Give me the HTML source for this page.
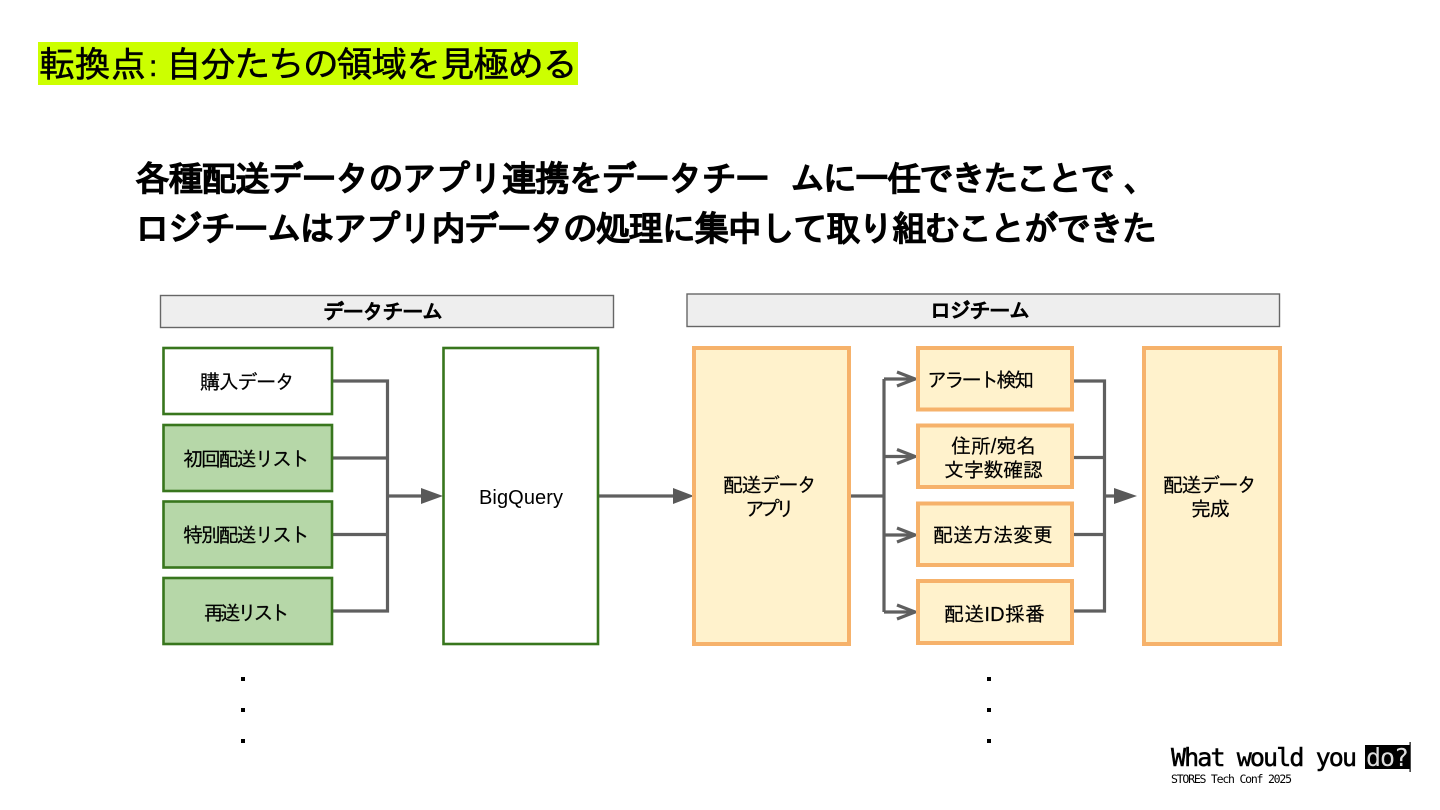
<!DOCTYPE html>
<html lang="ja">
<head>
<meta charset="utf-8">
<style>
html,body{margin:0;padding:0;background:#fff;width:1440px;height:810px;overflow:hidden}
svg{display:block}
text{font-family:"Liberation Sans","WenQuanYi Zen Hei","IPAGothic",sans-serif;fill:#000}
.m{font-size:20px;stroke:#000;stroke-width:.2}
.t{font-size:36px;stroke:#000;stroke-width:.5}
.h{font-size:35px;stroke:#000;stroke-width:1.6}
.b{font-size:21px;stroke:#000;stroke-width:1.1}
.g{fill:#fff;stroke:#38761d;stroke-width:2.6}
.gf{fill:#b6d7a8;stroke:#38761d;stroke-width:2.6}
.o{fill:#fff2cc;stroke:#f6b26b;stroke-width:4}
.hd{fill:#eeeeee;stroke:#666;stroke-width:1.4}
.c{fill:none;stroke:#5f5f5f;stroke-width:3.2}
.a{fill:#595959}
.mono{font-family:"DejaVu Sans Mono","Liberation Mono",monospace}
</style>
</head>
<body>
<svg width="1440" height="810" viewBox="0 0 1440 810" xmlns="http://www.w3.org/2000/svg">
<rect x="38" y="42" width="540" height="43" fill="#ccff00"/>
<text class="t" x="39" y="77" textLength="107">転換点</text>
<text class="t" x="149" y="76" style="font-size:30px">:</text>
<text class="t" x="166" y="77" textLength="412">自分たちの領域を見極める</text>

<text class="h" x="135" y="191" textLength="635">各種配送データのアプリ連携をデータチー</text>
<text class="h" x="790" y="191" textLength="325">ムに一任できたことで</text>
<text class="h" x="1124" y="191">、</text>
<text class="h" x="135" y="241" textLength="1022">ロジチームはアプリ内データの処理に集中して取り組むことができた</text>

<rect class="hd" x="160.5" y="295.5" width="453" height="32"/>
<text class="b" x="323" y="319" textLength="120">データチーム</text>
<rect class="hd" x="687" y="294" width="592.5" height="32.5"/>
<text class="b" x="930" y="318" textLength="100">ロジチーム</text>

<!-- left connectors -->
<path class="c" d="M332 381H387.5V611H332M332 458H387.5M332 534.5H387.5M387.5 496H423"/>
<path class="a" d="M421 488L443 496L421 504Z"/>
<path class="c" d="M598 496H675"/>
<path class="a" d="M673 488L694 496L673 504Z"/>

<!-- right connectors -->
<path class="c" d="M849 496H884M884 379V612M884 379H915M884 456.5H915M884 535H915M884 612H915"/>
<path class="c" d="M897 372L915 379L897 386M897 449.5L915 456.5L897 463.5M897 528L915 535L897 542M897 605L915 612L897 619"/>
<path class="c" d="M1072 381H1104.5V611H1072M1072 457.5H1104.5M1072 534.5H1104.5M1104.5 496H1116"/>
<path class="a" d="M1114 488L1137 496L1114 504Z"/>

<!-- green boxes -->
<rect class="g" x="163.5" y="348" width="168.5" height="66"/>
<rect class="gf" x="163.5" y="425" width="168.5" height="66"/>
<rect class="gf" x="163.5" y="501.5" width="168.5" height="66"/>
<rect class="gf" x="163.5" y="578" width="168.5" height="66"/>
<rect class="g" x="443.5" y="348" width="154.5" height="296"/>
<text class="m" x="200" y="389" textLength="95">購入データ</text>
<text class="m" x="183" y="466" textLength="127">初回配送リスト</text>
<text class="m" x="183" y="542" textLength="127">特別配送リスト</text>
<text class="m" x="204" y="620" textLength="86">再送リスト</text>
<text class="m" x="479" y="504" textLength="84" style="stroke-width:0">BigQuery</text>

<!-- orange boxes -->
<rect class="o" x="694" y="348" width="155" height="296"/>
<rect class="o" x="918" y="348" width="154" height="61.5"/>
<rect class="o" x="918" y="425.5" width="154" height="61.5"/>
<rect class="o" x="918" y="503.5" width="154" height="61.5"/>
<rect class="o" x="918" y="581" width="154" height="62"/>
<rect class="o" x="1144" y="348" width="136" height="296"/>
<text class="m" x="723" y="492" textLength="94">配送データ</text>
<text class="m" x="745" y="516" textLength="50">アプリ</text>
<text class="m" x="927" y="387" textLength="107">アラート検知</text>
<text class="m" x="951" y="453" textLength="85">住所/宛名</text>
<text class="m" x="944" y="477" textLength="99">文字数確認</text>
<text class="m" x="933" y="542" textLength="120">配送方法変更</text>
<text class="m" x="944" y="621" textLength="101">配送ID採番</text>
<text class="m" x="1163" y="492" textLength="94">配送データ</text>
<text class="m" x="1191" y="516" textLength="39">完成</text>

<!-- dots -->
<g fill="#000">
<rect x="241" y="677" width="4" height="4"/><rect x="241" y="708" width="4" height="4"/><rect x="241" y="739" width="4" height="4"/>
<rect x="987" y="677" width="4" height="4"/><rect x="987" y="708" width="4" height="4"/><rect x="987" y="739" width="4" height="4"/>
</g>

<!-- footer -->
<text class="mono" x="1171" y="766" font-size="25" textLength="186" style="stroke:#000;stroke-width:.5">What would you</text>
<rect x="1365" y="745" width="45" height="24" fill="#000"/>
<text class="mono" x="1366" y="766" font-size="25" textLength="43" style="fill:#ddd">do?</text>
<rect x="1409.5" y="742" width="1.2" height="30" fill="#000"/>
<text class="mono" x="1171" y="783" font-size="11.5" textLength="121">STORES Tech Conf 2025</text>
</svg>
</body>
</html>
